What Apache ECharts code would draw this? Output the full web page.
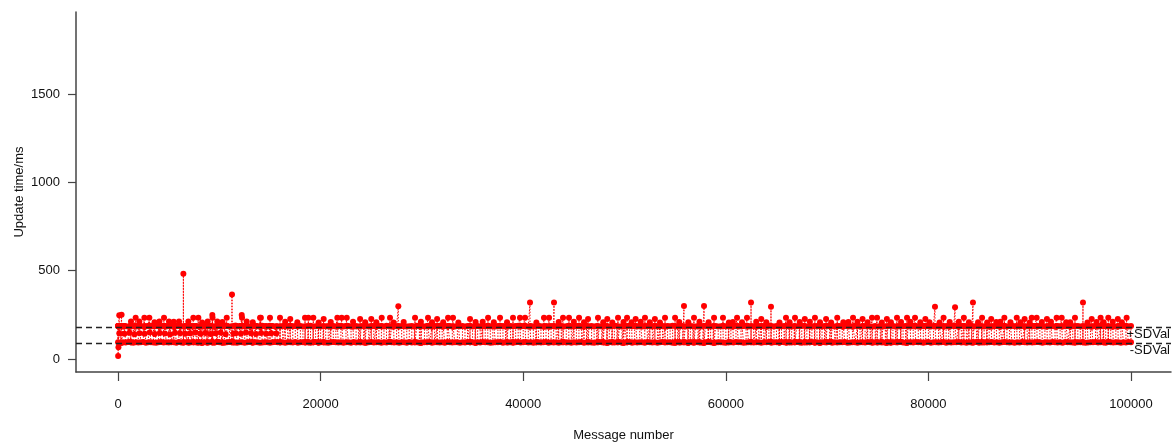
<!DOCTYPE html>
<html>
<head>
<meta charset="utf-8">
<script src="https://cdn.jsdelivr.net/npm/echarts@6/dist/echarts.min.js"></script>
<style>
  html, body { margin: 0; padding: 0; background: #ffffff; }
  #chart { width: 1176px; height: 443px; }
</style>
</head>
<body>
<div id="chart"></div>
<script>
// Update times (ms) per message: readings grouped in blocks of 250 messages.
const blockStep = 250;

// Upper row of the band, one reading per block (message 0 .. 100000)
const upperMs = [
  186,184,187,185,183,188,185,184,187,186,183,185,188,184,186,187,185,183,186,184,
  187,185,184,186,188,183,185,187,184,186,185,187,183,186,184,188,185,186,184,187,
  185,183,187,186,184,185,188,184,186,183,187,185,184,186,187,185,183,188,185,184,
  186,187,184,185,183,187,186,184,188,185,186,184,187,183,185,186,188,184,185,187,
  184,186,185,187,183,186,184,188,185,184,187,186,183,185,187,184,186,185,188,183,
  185,187,184,186,185,183,188,186,184,187,185,184,186,187,183,185,186,184,188,185,
  187,184,186,185,183,187,185,188,184,186,185,187,184,183,186,185,187,184,186,188,
  183,185,187,184,186,185,188,183,186,184,187,185,186,184,183,187,185,186,188,184,
  186,185,183,187,184,186,188,185,184,187,183,186,185,184,187,186,183,185,188,184,
  185,187,186,184,183,188,185,186,184,187,185,183,186,187,184,185,188,186,184,185,
  184,186,188,185,187,183,186,184,185,187,188,184,186,183,185,187,184,186,185,188,
  187,183,185,186,184,188,186,185,183,187,184,186,188,185,184,186,187,183,185,186,
  185,188,184,186,187,183,185,186,188,184,187,185,183,186,185,187,184,188,186,183,
  186,184,185,187,188,184,183,186,185,187,186,188,184,185,183,186,187,185,184,186,
  188,185,186,183,185,187,184,186,187,185,183,188,186,184,185,187,186,183,184,187,
  184,187,183,185,186,188,187,184,186,183,185,186,187,184,188,185,183,186,187,185,
  186,183,187,184,185,186,184,187,183,188,186,185,184,187,186,183,185,188,184,186,
  185,186,184,188,183,185,187,186,184,185,187,183,186,188,185,184,186,187,183,185,
  187,185,186,184,187,186,183,185,188,186,184,187,185,183,186,188,184,185,187,186,
  183,186,185,187,184,185,188,184,186,187,185,186,183,185,184,187,186,188,185,184,
  186
];

// Lower row of the band, one reading per block
const lowerMs = [
  94,92,95,93,96,94,91,95,93,94,96,92,94,95,93,91,94,96,93,95,
  93,95,94,92,96,93,95,94,91,94,95,93,96,92,94,93,95,94,92,96,
  95,93,92,94,96,95,93,91,94,95,92,94,96,93,95,94,92,93,95,94,
  92,94,96,95,93,94,91,95,94,93,96,92,95,94,93,95,92,94,96,93,
  94,95,93,92,94,96,95,93,94,91,95,94,92,96,93,94,95,93,92,94,
  96,93,94,95,92,94,93,96,95,93,94,92,95,94,91,96,93,94,95,92,
  93,95,94,96,92,94,95,93,94,92,96,95,93,94,95,91,94,93,96,94,
  95,92,94,93,96,95,94,92,93,95,94,96,92,94,93,95,91,94,96,93,
  94,96,93,95,92,94,95,93,94,96,92,95,93,94,91,95,96,93,94,92,
  95,93,94,96,92,95,94,93,91,94,96,95,93,92,94,95,93,94,96,92,
  93,94,96,92,95,93,94,95,91,96,94,93,95,92,94,96,93,95,94,92,
  96,94,93,95,94,92,96,93,94,95,93,91,94,96,95,92,93,94,95,93,
  92,95,94,93,96,94,95,92,93,94,96,93,95,94,92,95,94,96,91,94,
  94,93,96,95,92,94,93,95,96,94,92,95,93,94,96,93,95,92,94,95,
  95,96,92,94,93,95,94,96,92,93,95,94,91,95,94,93,96,94,92,95,
  93,94,95,92,96,93,94,95,94,96,93,92,95,94,93,96,94,95,92,94,
  96,92,94,95,93,94,96,92,95,93,94,95,96,93,94,92,95,93,94,96,
  92,95,93,94,95,96,93,94,92,95,96,94,93,95,91,94,93,96,95,93,
  94,93,95,96,94,92,95,94,93,96,95,93,94,92,96,95,94,93,95,94,
  95,94,92,93,95,94,96,93,94,95,92,96,94,93,95,94,92,95,93,96,
  94
];

// Mid-level readings during the first messages
const midMsg = [125,625,1125,1625,2125,2625,3125,3625,4125,4625,5125,5625,6125,6625,7125,7625,
                8125,8625,9125,9625,10125,10625,11400,11625,12125,12625,13125,13625,14125,14625,15125,15625];
const midMs  = [145,142,148,140,146,143,150,141,147,144,139,148,145,142,146,150,
                143,147,141,145,148,140,144,146,142,149,145,141,147,143,146,144];

// Readings just above the band
const bumpMsg = [
  1280,1740,2100,2600,3090,4080,4540,5030,6020,6940,7430,7930,8850,9310,9330,9800,10730,12210,12240,12700,
  14020,14100,15000,15990,17000,18460,18790,19280,20300,21650,22080,22580,23900,25000,26030,26850,
  29320,30600,31500,32580,33070,34750,36530,37710,38990,39680,40180,42050,42550,43930,44520,45510,
  46400,47380,48300,49360,50250,51100,52020,53000,54000,54990,56860,58840,59720,61110,62090,63500,
  65940,66830,67800,68800,69900,71000,72560,73500,74430,74930,75900,76900,77890,78680,79700,81500,
  83500,85300,86200,87500,88720,89500,90200,90690,91700,92660,93160,94470,96120,97000,97760,98700,99570
];
const bumpMs = [
  212,233,212,233,233,212,233,212,212,212,233,233,212,248,233,212,233,248,233,212,
  233,233,233,233,226,233,233,233,226,233,233,233,226,226,233,233,
  233,233,226,233,233,226,233,233,233,233,233,233,233,233,233,233,
  226,233,226,233,233,226,233,226,233,233,233,233,233,233,233,226,
  233,233,226,233,226,233,233,226,233,233,226,233,233,233,226,233,
  233,233,226,233,233,226,233,233,226,233,233,233,226,233,233,226,233
];

// Readings that sit on the top edge of the band
const ledgeMsg = [
  3600,5500,8300,10300,13300,16500,17700,19800,21000,23200,24400,25500,27200,28200,29900,31000,
  32100,33600,35300,36000,37100,38400,41300,43500,45000,46000,47900,48800,49900,50700,51600,52500,
  53500,55400,56300,57400,58300,60300,60700,61600,63000,64000,65300,66300,67300,68300,69300,70400,
  71600,72100,73000,74000,75400,76300,77300,78200,79200,80100,81100,82100,83000,84000,84900,85800,
  86700,87100,88100,89100,90000,91200,92100,93600,94000,95700,96600,97300,98200,99100
];
const ledgeMs = [
  208,210,206,209,207,210,208,206,209,210,207,208,206,209,210,207,
  208,206,209,210,207,208,206,209,210,208,207,206,209,208,210,207,
  206,209,208,210,207,206,209,208,210,207,206,208,209,210,207,206,
  208,209,210,207,206,208,209,210,207,208,206,209,210,207,208,206,
  209,210,207,208,206,209,210,208,207,206,209,208,210,207
];

// Isolated long updates
const spikeMsg = [10, 40, 120, 350, 6450, 11250, 27670, 40670, 43040, 55870, 57850, 62490, 64460, 80650, 82630, 84400, 95260];
const spikeMs  = [17, 66, 247, 250, 482, 365, 298, 320, 320, 300, 300, 320, 295, 295, 292, 320, 320];

// Mean +/- SD reference lines
const sdUpper = 181;
const sdLower = 91;

const xTicks = [0, 20000, 40000, 60000, 80000, 100000];
const yTicks = [0, 500, 1000, 1500];

// Assemble readings in message order
const blockCount = Math.min(upperMs.length, lowerMs.length);
const points = [];
for (let i = 0; i < blockCount; i++) {
  const m = i * blockStep;
  const pair = i % 2 === 0 ? [lowerMs[i], upperMs[i]] : [upperMs[i], lowerMs[i]];
  points.push([m, pair[0]], [m + 1, pair[1]]);
}
function addReading(msg, ms) {
  const i = Math.min(Math.floor(msg / blockStep), blockCount - 1);
  const base = i % 2 === 0 ? upperMs[i] : lowerMs[i];
  points.push([msg - 1, base], [msg, ms], [msg + 1, base]);
}
midMsg.forEach((m, k) => addReading(m, midMs[k]));
ledgeMsg.forEach((m, k) => addReading(m, ledgeMs[k]));
bumpMsg.forEach((m, k) => addReading(m, bumpMs[k]));
spikeMsg.forEach((m, k) => addReading(m, spikeMs[k]));
points.sort((a, b) => a[0] - b[0]);

const font = "'Liberation Sans', Arial, sans-serif";
const textColor = '#111111';
const axisColor = '#444444';
const plain = v => String(v);

const chart = echarts.init(document.getElementById('chart'), null, { renderer: 'canvas' });
chart.setOption({
  animation: false,
  backgroundColor: '#ffffff',
  grid: { left: 76, right: 5, top: 12, bottom: 71, containLabel: false, outerBoundsMode: 'none' },
  xAxis: {
    type: 'value',
    min: -4150,
    max: 103950,
    name: 'Message number',
    nameLocation: 'middle',
    nameGap: 57,
    nameMoveOverlap: false,
    nameTextStyle: { fontFamily: font, fontSize: 13, color: textColor },
    axisLine: { show: true, onZero: false, lineStyle: { color: axisColor, width: 1.5 } },
    axisTick: { show: true, customValues: xTicks, length: 9, lineStyle: { color: axisColor, width: 1.2 } },
    axisLabel: { customValues: xTicks, formatter: plain, margin: 26, fontFamily: font, fontSize: 13, color: textColor },
    splitLine: { show: false }
  },
  yAxis: {
    type: 'value',
    min: -74,
    max: 1964,
    name: 'Update time/ms',
    nameLocation: 'middle',
    nameRotate: 90,
    nameGap: 50,
    nameMoveOverlap: false,
    nameTextStyle: { fontFamily: font, fontSize: 13, color: textColor },
    axisLine: { show: true, onZero: false, lineStyle: { color: axisColor, width: 1.5 } },
    axisTick: { show: true, customValues: yTicks, length: 8, lineStyle: { color: axisColor, width: 1.2 } },
    axisLabel: { customValues: yTicks, formatter: plain, margin: 16, fontFamily: font, fontSize: 13, color: textColor },
    splitLine: { show: false }
  },
  series: [{
    type: 'line',
    data: points,
    showSymbol: true,
    showAllSymbol: true,
    symbol: 'circle',
    symbolSize: 6,
    itemStyle: { color: '#ff0000' },
    lineStyle: { color: '#ff0000', width: 1, type: [1.5, 1.5] },
    silent: true,
    markLine: {
      silent: true,
      symbol: 'none',
      lineStyle: { color: '#222222', width: 1.4, type: [6, 4] },
      label: { position: 'insideEndBottom', distance: 1, fontFamily: font, fontSize: 13, color: textColor },
      data: [
        { yAxis: sdUpper, label: { formatter: '+SDVal' } },
        { yAxis: sdLower, label: { formatter: '-SDVal' } }
      ]
    }
  }]
});
</script>
</body>
</html>
